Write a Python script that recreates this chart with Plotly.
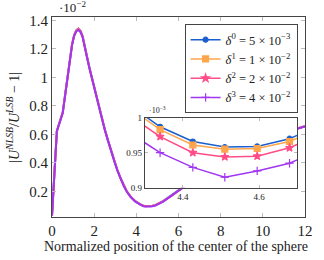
import plotly.graph_objects as go

# Normalized position of the centre of the sphere
x_pos = [0.00, 0.23, 0.37, 0.51, 0.63, 0.74, 0.85, 0.95, 1.05, 1.15, 1.25, 1.35, 1.45, 1.55,
         1.66, 1.78, 1.90, 2.00, 2.10, 2.20, 2.35, 2.51, 2.65, 2.80, 2.95, 3.10, 3.25, 3.40,
         3.55, 3.73, 3.95, 4.17, 4.255, 4.34, 4.426, 4.51, 4.595, 4.68, 4.765, 4.90, 5.27,
         5.70, 6.20, 7.00, 8.00, 9.00, 10.00, 11.00, 11.60, 12.00]

# |U^NLSB/U^LSB - 1| in units of 1e-2
delta0 = [0.030, 0.624, 0.690, 0.755, 0.886, 1.016, 1.142, 1.232, 1.297, 1.330, 1.342, 1.327, 1.291, 1.232,
          1.147, 1.066, 0.991, 0.930, 0.873, 0.817, 0.724, 0.632, 0.560, 0.486, 0.416, 0.350, 0.293, 0.241,
          0.200, 0.163, 0.131, 0.111, 0.1020, 0.0987, 0.0966, 0.0958, 0.0959, 0.0970, 0.0990, 0.1040, 0.131,
          0.173, 0.228, 0.313, 0.408, 0.488, 0.558, 0.613, 0.641, 0.658]
delta1 = [0.030, 0.624, 0.689, 0.754, 0.885, 1.015, 1.141, 1.231, 1.296, 1.329, 1.341, 1.326, 1.290, 1.231,
          1.146, 1.065, 0.990, 0.929, 0.872, 0.816, 0.723, 0.631, 0.559, 0.485, 0.415, 0.350, 0.293, 0.241,
          0.200, 0.163, 0.131, 0.110, 0.1016, 0.0983, 0.0961, 0.0955, 0.0956, 0.0966, 0.0986, 0.1036, 0.131,
          0.173, 0.228, 0.313, 0.408, 0.488, 0.558, 0.613, 0.641, 0.658]
delta2 = [0.030, 0.623, 0.688, 0.753, 0.884, 1.014, 1.140, 1.230, 1.295, 1.328, 1.340, 1.325, 1.289, 1.230,
          1.145, 1.064, 0.989, 0.928, 0.871, 0.815, 0.722, 0.630, 0.558, 0.484, 0.414, 0.349, 0.292, 0.240,
          0.199, 0.162, 0.130, 0.109, 0.1005, 0.0973, 0.0950, 0.0944, 0.0945, 0.0957, 0.0977, 0.1026, 0.130,
          0.172, 0.227, 0.312, 0.407, 0.487, 0.557, 0.612, 0.640, 0.657]
delta3 = [0.030, 0.620, 0.685, 0.750, 0.880, 1.010, 1.135, 1.225, 1.290, 1.322, 1.333, 1.318, 1.283, 1.225,
          1.140, 1.060, 0.985, 0.925, 0.868, 0.812, 0.720, 0.628, 0.556, 0.482, 0.412, 0.347, 0.290, 0.238,
          0.197, 0.160, 0.128, 0.107, 0.0980, 0.0950, 0.0929, 0.0915, 0.0924, 0.0935, 0.0955, 0.1000, 0.128,
          0.170, 0.225, 0.310, 0.405, 0.485, 0.555, 0.610, 0.638, 0.655]

names = ["<i>δ</i><sup>0</sup> = 5 × 10<sup>−3</sup>",
         "<i>δ</i><sup>1</sup> = 1 × 10<sup>−2</sup>",
         "<i>δ</i><sup>2</sup> = 2 × 10<sup>−2</sup>",
         "<i>δ</i><sup>3</sup> = 4 × 10<sup>−2</sup>"]
main_ticks = [0, 2, 4, 6, 8, 10, 12]
main_yticks = [0.2, 0.4, 0.6, 0.8, 1.0, 1.2, 1.4]
inset_xticks = [4.4, 4.6]
inset_yticks = [0.9, 0.95, 1.0]

colors = ["#1a5fd0", "#ffa64d", "#ff4d88", "#a035f2"]
symbols = ["circle", "square", "star", "cross-thin"]
msizes = [5, 6, 6, 6]
series = [delta0, delta1, delta2, delta3]
FONT = "Liberation Serif"

fig = go.Figure()
for ys, c in zip(series, colors):
    fig.add_trace(go.Scatter(x=x_pos, y=ys, mode="lines", line=dict(color=c, width=2),
                             xaxis="x", yaxis="y", showlegend=False, hoverinfo="skip"))
for ys, c, s, ms, nm in zip(series, colors, symbols, msizes, names):
    fig.add_trace(go.Scatter(x=x_pos, y=[v * 10 for v in ys], mode="lines+markers", name=nm,
                             line=dict(color=c, width=1.5),
                             marker=dict(symbol=s, size=ms, color=c, line=dict(color=c, width=1.2)),
                             xaxis="x2", yaxis="y2"))

ax_common = dict(showgrid=False, zeroline=False, showline=True, linecolor="#444", linewidth=1,
                 ticks="inside", tickcolor="#bbb", mirror="allticks")
fig.update_layout(
    width=324, height=260,
    margin=dict(l=52, r=11, t=17, b=43),
    paper_bgcolor="white", plot_bgcolor="white",
    font=dict(family=FONT, color="#222"),
    xaxis=dict(domain=[0, 1], range=[0, 12], tickvals=main_ticks, ticklen=4,
               tickfont=dict(size=15), **ax_common),
    yaxis=dict(domain=[0, 1], range=[0.02, 1.424], tickvals=main_yticks, ticklen=4,
               tickfont=dict(size=15), **ax_common),
    xaxis2=dict(domain=[0.367, 0.969], range=[4.3, 4.7], anchor="y2", tickvals=inset_xticks,
                ticktext=["4.4", "4.6"], ticklen=3, tickfont=dict(size=9), **ax_common),
    yaxis2=dict(domain=[0.1465, 0.4965], range=[0.9, 1.0], anchor="x2", tickvals=inset_yticks,
                ticktext=["0.9", "0.95", "1"], ticklen=3, tickfont=dict(size=9), **ax_common),
    legend=dict(x=0.524, y=0.965, xanchor="left", yanchor="top", bgcolor="white",
                bordercolor="#444", borderwidth=1, font=dict(size=12.5, family=FONT),
                tracegroupgap=0),
    annotations=[
        dict(text="·10<sup>−2</sup>", xref="paper", yref="paper", x=0.018, y=1.0,
             xanchor="left", yanchor="bottom", showarrow=False, font=dict(size=13)),
        dict(text="·10<sup>−3</sup>", xref="paper", yref="paper", x=0.376, y=0.5,
             xanchor="left", yanchor="bottom", showarrow=False, font=dict(size=8)),
        dict(text="|<i>U</i><sup><i>NLSB</i></sup>/<i>U</i><sup><i>LSB</i></sup> − 1|",
             xref="paper", yref="paper", x=-0.155, y=0.5, textangle=-90,
             xanchor="center", yanchor="middle", showarrow=False, font=dict(size=14)),
        dict(text="Normalized position of the center of the sphere", xref="paper", yref="paper",
             x=0.49, y=-0.1485, xanchor="center", yanchor="middle", showarrow=False,
             font=dict(size=14)),
    ],
)
fig.write_html("out.html", config={"displayModeBar": False},
               post_script="document.body.style.margin='0px';")
